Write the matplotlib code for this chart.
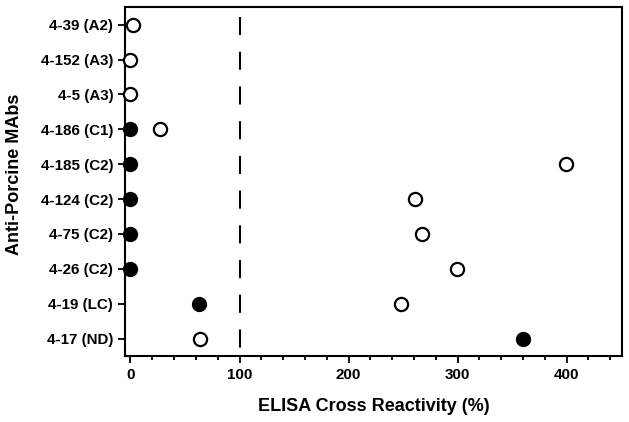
import matplotlib.pyplot as plt
from matplotlib.ticker import MultipleLocator

plt.rcParams['font.family'] = ['Liberation Sans', 'DejaVu Sans']
plt.rcParams['font.weight'] = 'bold'
plt.rcParams['lines.scale_dashes'] = False

mabs = ['4-39 (A2)', '4-152 (A3)', '4-5 (A3)', '4-186 (C1)', '4-185 (C2)',
        '4-124 (C2)', '4-75 (C2)', '4-26 (C2)', '4-19 (LC)', '4-17 (ND)']
# filled circles (None = not shown)
filled = [None, None, None, 0, 0, 0, 0, 0, 62.5, 359.6]
# open circles
hollow = [2.7, 0, 0, 27.5, 399, 260.7, 267, 299.7, 248.4, 63.5]
cutoff = 100

ypos = list(range(len(mabs)))[::-1]

fig = plt.figure(figsize=(6.29, 4.22), dpi=100)
ax = fig.add_axes([125/629, 1 - 356/422, (622.3-125)/629, (356-7.3)/422])

# dashed cut-off line, drawn top to bottom so dashes sit on the rows
ax.plot([cutoff, cutoff], [9.5, -0.5], color='black', lw=1.5,
        linestyle=(17.8, (13.0, 12.0)))

fy = [y for y, v in zip(ypos, filled) if v is not None]
fx = [v for v in filled if v is not None]
ax.plot(fx, fy, 'o', ms=9.5, mfc='black', mec='black', mew=1.5, clip_on=False, zorder=3)
ax.plot(hollow, ypos, 'o', ms=9.5, mfc='white', mec='black', mew=1.6, clip_on=False, zorder=4)

ax.set_xlim(-5, 451)
ax.set_ylim(-0.5, 9.5)
ax.set_yticks(ypos)
ax.set_yticklabels(mabs)
ax.xaxis.set_major_locator(MultipleLocator(100))
ax.xaxis.set_minor_locator(MultipleLocator(20))
ax.tick_params(axis='both', which='major', labelsize=10.9, width=1.3, length=5, direction='out')
ax.tick_params(axis='x', which='minor', width=1.3, length=3, direction='out')
for lab in ax.get_xticklabels() + ax.get_yticklabels():
    lab.set_fontweight('bold')
for sp in ax.spines.values():
    sp.set_linewidth(1.5)

ax.set_xlabel('ELISA Cross Reactivity (%)', fontsize=13, fontweight='bold', labelpad=12)
ax.set_ylabel('Anti-Porcine MAbs', fontsize=13, fontweight='bold')
ax.yaxis.set_label_coords(-0.206, 0.52)

fig.savefig('out.png', dpi=100)
